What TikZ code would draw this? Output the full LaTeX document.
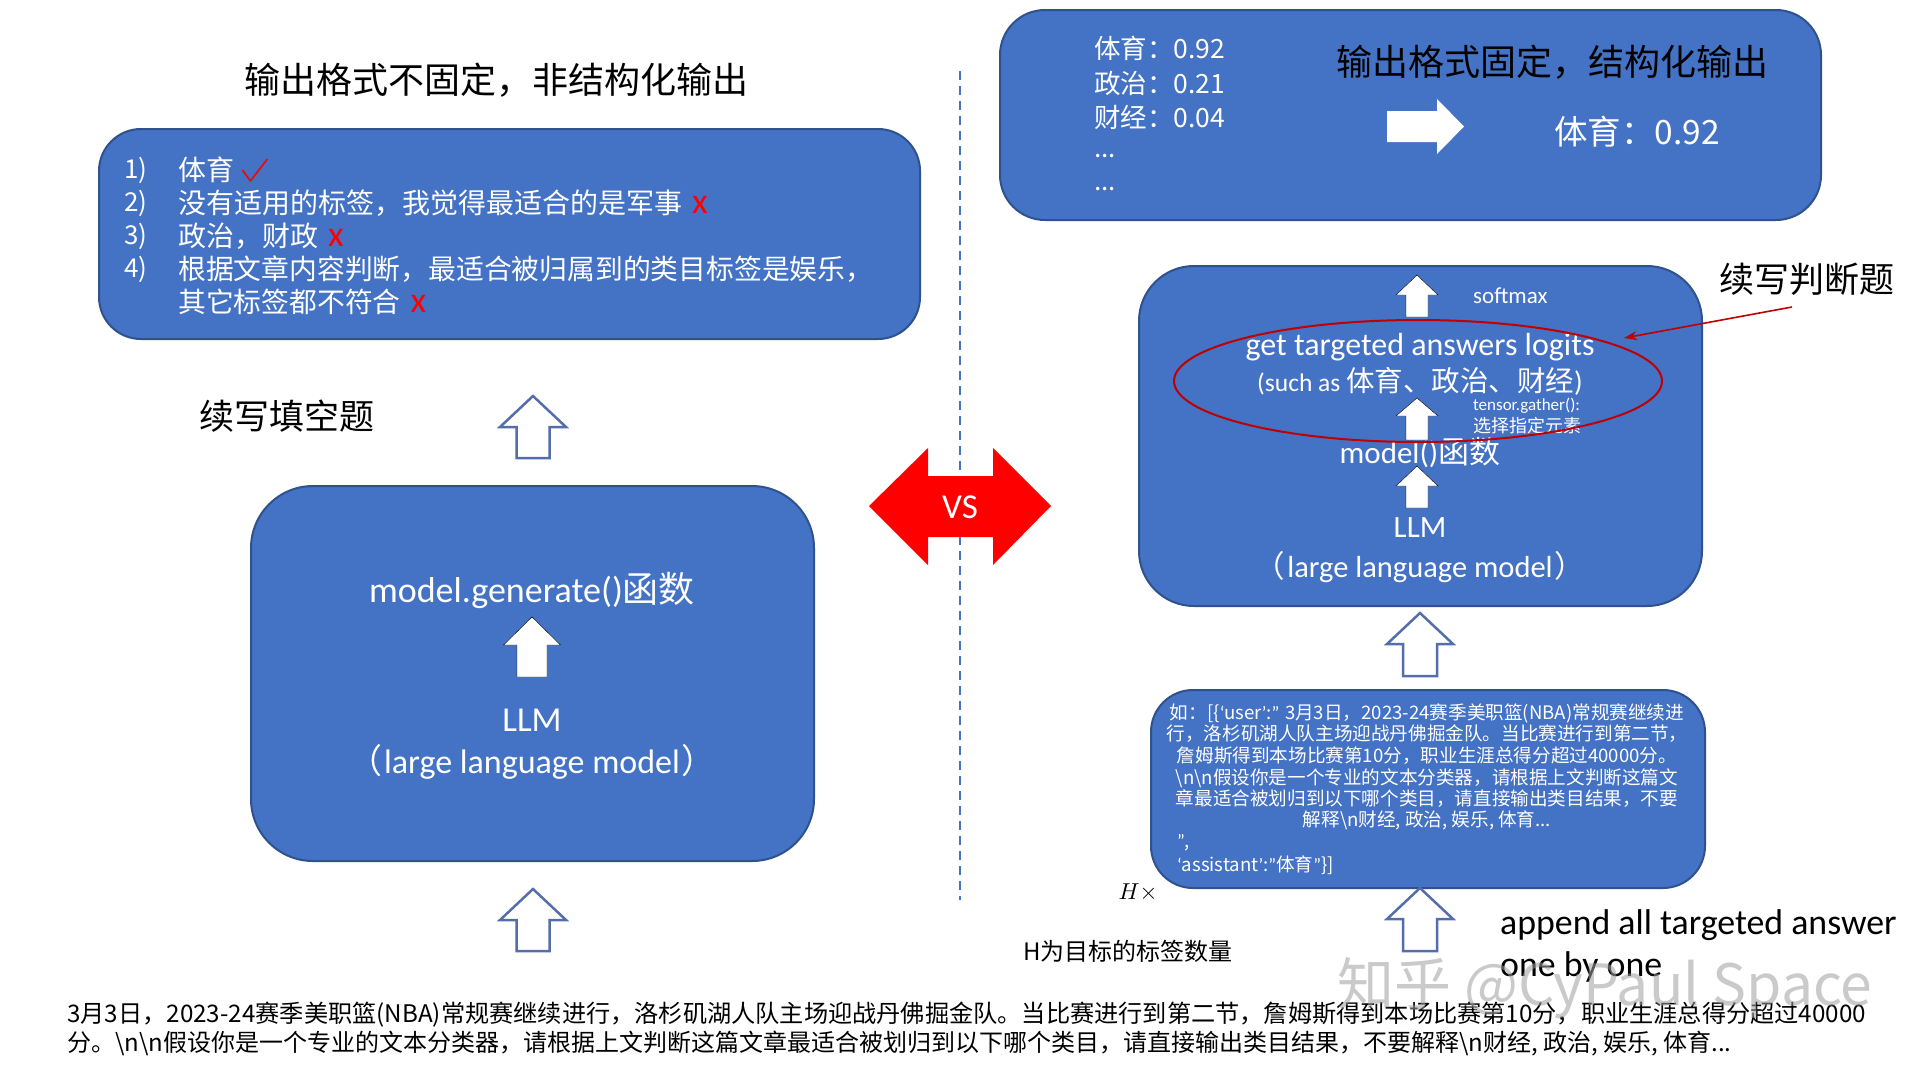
\documentclass[tikz,border=0pt]{standalone}
\usepackage{fontspec}
\setmainfont{Carlito}
\newfontfamily\lat{Carlito}
\newfontfamily\cjk{Noto Sans CJK SC}
\usetikzlibrary{arrows.meta,shapes.geometric}

\definecolor{panelfill}{RGB}{68,114,196}
\definecolor{paneledge}{RGB}{47,82,143}
\definecolor{hollowedge}{RGB}{84,110,170}
\definecolor{markred}{RGB}{255,0,0}
\definecolor{ringred}{RGB}{192,0,0}
\definecolor{dividerblue}{RGB}{68,114,196}

\newcommand\fs[2]{\fontsize{#1}{#2}\selectfont}
\newcommand\wrong{\hspace{10pt}{\lat\fs{36}{36}\color{markred}x}}
\newcommand\bs{\textbackslash}
% block arrow pointing up: style, centre x, apex y, total height, head height, head width, shaft width
\newcommand\blockup[7]{%
  \draw[#1] (#2,#3) -- ++(#6/2,#5) -- ++(-#6/2+#7/2,0) -- ++(0,#4-#5)
    -- ++(-#7,0) -- ++(0,#5-#4) -- ++(-#6/2+#7/2,0) -- cycle;}

\begin{document}
\begin{tikzpicture}[x=1pt,y=-1pt,
  panel/.style={draw=paneledge, line width=2pt, fill=panelfill, rounded corners=#1, inner sep=0pt},
  panel/.default=45pt,
  wt/.style={text=white, inner sep=0pt},
  bk/.style={text=black, inner sep=0pt},
  hollow/.style={draw=hollowedge, line width=2.5pt, fill=white, line join=miter},
  solidup/.style={fill=white}]

\path[use as bounding box, fill=white] (0,0) rectangle (1920,1080);

% ---------------- left half: free generation ----------------
\node[bk, font=\cjk\fs{36}{40}] (lefttitle) at (496,80) {输出格式不固定，非结构化输出};

\node[panel=42pt, minimum width=821pt, minimum height=210pt] (answers) at (509.5,234) {};
\node[wt, anchor=west, font=\cjk\fs{26}{30}] (num1) at (124,170) {1)};
\node[wt, anchor=west, font=\cjk\fs{26}{30}] (num2) at (124,203) {2)};
\node[wt, anchor=west, font=\cjk\fs{26}{30}] (num3) at (124,236) {3)};
\node[wt, anchor=west, font=\cjk\fs{26}{30}] (num4) at (124,269) {4)};
\node[wt, anchor=west, font=\cjk\fs{28}{30}] (item1) at (178,170) {体育};
\draw[markred, line width=1.6pt, line join=round] ([xshift=8pt]item1.east) -- ++(8,11) -- ++(17,-22);
\node[wt, anchor=west, font=\cjk\fs{28}{30}] (item2) at (178,203) {没有适用的标签，我觉得最适合的是军事\wrong};
\node[wt, anchor=west, font=\cjk\fs{28}{30}] (item3) at (178,236) {政治，财政\wrong};
\node[wt, anchor=west, font=\cjk\fs{27.8}{30}] (item4) at (178,269) {根据文章内容判断，最适合被归属到的类目标签是娱乐，};
\node[wt, anchor=west, font=\cjk\fs{27.8}{30}] (item4b) at (178,302) {其它标签都不符合\wrong};

\node[bk, font=\cjk\fs{35}{40}] (fillblank) at (287,416) {续写填空题};
\blockup{hollow}{533}{396}{62}{31}{66}{33}

\node[panel=62pt, minimum width=563pt, minimum height=375pt] (genbox) at (532.5,673.5) {};
\node[wt, font=\lat\fs{36}{40}] (generate) at (532,590) {model.generate(){\cjk 函数}};
\blockup{solidup}{532}{617}{60}{28}{57}{30}
\node[wt, font=\lat\fs{35}{38}] (llmleft) at (532,720) {LLM};
\node[wt, font=\lat\fs{34}{38}] (llmleftfull) at (532,762) {{\cjk （}\hspace{2pt}large language model\hspace{2pt}{\cjk ）}};

\blockup{hollow}{533}{889}{62}{31}{66}{33}

% ---------------- divider and VS ----------------
\coordinate (divtop) at (960,71);
\coordinate (divbot) at (960,900);
\draw[dividerblue, line width=2.5pt, dash pattern=on 9pt off 6pt] (divtop) -- (divbot);
\fill[markred] (869,506) -- (928,448) -- (928,476) -- (993,476) -- (993,448) -- (1051,506)
  -- (993,565) -- (993,537) -- (928,537) -- (928,565) -- cycle;
\node[wt, font=\lat\fs{35}{38}] (vs) at (960,507) {VS};

% ---------------- right half: scoring ----------------
\node[panel=45pt, minimum width=821pt, minimum height=210pt] (scores) at (1410.5,115) {};
\node[wt, anchor=west, font=\cjk\fs{26.5}{30}] (s1) at (1094,48) {体育：0.92};
\node[wt, anchor=west, font=\cjk\fs{26.5}{30}] (s2) at (1094,83) {政治：0.21};
\node[wt, anchor=west, font=\cjk\fs{26.5}{30}] (s3) at (1094,117) {财经：0.04};
\node[wt, anchor=west, font=\cjk\fs{26}{30}] (s4) at (1094,156) {...};
\node[wt, anchor=west, font=\cjk\fs{26}{30}] (s5) at (1094,189) {...};
\node[bk, font=\cjk\fs{36}{40}] (righttitle) at (1552,62) {输出格式固定，结构化输出};
\fill[white] (1387,111) -- (1437,111) -- (1437,99) -- (1464,126.5) -- (1437,154) -- (1437,142) -- (1387,142) -- cycle;
\node[wt, font=\cjk\fs{33.5}{36}] (best) at (1637,132) {体育：0.92};

\node[panel=55pt, minimum width=563pt, minimum height=340pt] (scorebox) at (1420.5,436) {};
\blockup{solidup}{1417}{275}{42}{20}{42}{22}
\node[wt, anchor=west, font=\lat\fs{23}{26}] (softmax) at (1473,296) {softmax};
\node[wt, font=\lat\fs{32}{34}] (logits) at (1420,347) {get targeted answers logits};
\node[wt, font=\lat\fs{28.5}{34}] (suchas) at (1420,381) {{\fs{25.5}{30}(such as }{\cjk 体育、政治、财经})};
\blockup{solidup}{1417}{398}{42}{18}{42}{22}
\node[wt, anchor=west, font=\lat\fs{17}{20}] (gather) at (1473,406) {tensor.gather():};
\node[wt, anchor=west, font=\cjk\fs{18}{20}] (gathernote) at (1473,426) {选择指定元素};
\node[wt, font=\lat\fs{31}{34}] (modelcall) at (1420,453) {model(){\cjk 函数}};
\blockup{solidup}{1417}{466}{42}{20}{42}{22}
\node[wt, font=\lat\fs{31}{34}] (llmright) at (1420,528) {LLM};
\node[wt, font=\lat\fs{30.5}{34}] (llmrightfull) at (1420,567) {{\cjk （}\hspace{2pt}large language model\hspace{2pt}{\cjk ）}};

\node[draw=ringred, line width=2pt, ellipse, minimum width=488pt, minimum height=122pt, inner sep=0pt] (focusring) at (1418,381) {};
\node[bk, font=\cjk\fs{35}{40}] (judge) at (1807,279) {续写判断题};
\coordinate (pointerstart) at (1792,307);
\coordinate (pointertip) at (1624,338);
\draw[ringred, line width=1.6pt, -{Stealth[length=13pt,width=9pt]}] (pointerstart) -- (pointertip);

\blockup{hollow}{1420}{613}{63}{31}{66}{34}

\node[panel=42pt, minimum width=554pt, minimum height=198pt] (prompt) at (1428,789) {};
\node[wt, font=\cjk\fs{18.6}{22}] (p1) at (1427,713) {如：[\{{\lat ‘}user{\lat ’}:{\lat ”} 3月3日，2023-24赛季美职篮(NBA)常规赛继续进};
\node[wt, font=\cjk\fs{18.6}{22}] (p2) at (1427,734) {行，洛杉矶湖人队主场迎战丹佛掘金队。当比赛进行到第二节，};
\node[wt, font=\cjk\fs{18.6}{22}] (p3) at (1427,756) {詹姆斯得到本场比赛第10分，职业生涯总得分超过40000分。};
\node[wt, font=\cjk\fs{18.6}{22}] (p4) at (1427,778) {\bs n\bs n假设你是一个专业的文本分类器，请根据上文判断这篇文};
\node[wt, font=\cjk\fs{18.6}{22}] (p5) at (1427,799) {章最适合被划归到以下哪个类目，请直接输出类目结果，不要};
\node[wt, font=\cjk\fs{18.6}{22}] (p6) at (1427,820) {解释\bs n财经, 政治, 娱乐, 体育...};
\node[wt, anchor=west, font=\cjk\fs{18.6}{22}] (p7) at (1177,843) {{\lat ”},};
\node[wt, anchor=west, font=\cjk\fs{18.6}{22}] (p8) at (1177,865) {{\lat ‘}assistant{\lat ’}:{\lat ”}体育{\lat ”}\}]};

\node[bk] (times) at (1138,893) {\scalebox{2.3}{$H\times$}};
\node[bk, font=\cjk\fs{24}{28}] (hnote) at (1128,951) {H为目标的标签数量};

\blockup{hollow}{1420}{888}{63}{31}{66}{34}
\node[bk, anchor=west, font=\lat\fs{35.8}{40}] (append) at (1500,925) {append all targeted answer};
\node[bk, anchor=west, font=\lat\fs{35.8}{40}] (onebyone) at (1500,967) {one by one};

% ---------------- input text ----------------
\node[bk, anchor=west, font=\cjk\fs{24.2}{28}] (input1) at (67,1015) {3月3日，2023-24赛季美职篮(NBA)常规赛继续进行，洛杉矶湖人队主场迎战丹佛掘金队。当比赛进行到第二节，詹姆斯得到本场比赛第10分，职业生涯总得分超过40000};
\node[bk, anchor=west, font=\cjk\fs{24}{28}] (input2) at (67,1044) {分。\bs n\bs n假设你是一个专业的文本分类器，请根据上文判断这篇文章最适合被划归到以下哪个类目，请直接输出类目结果，不要解释\bs n财经, 政治, 娱乐, 体育...};

\node[text=gray!75, opacity=0.55, inner sep=0pt, font=\cjk\fs{57}{60}] (signature) at (1605,988) {知乎 @CyPaul Space};

\end{tikzpicture}
\end{document}
